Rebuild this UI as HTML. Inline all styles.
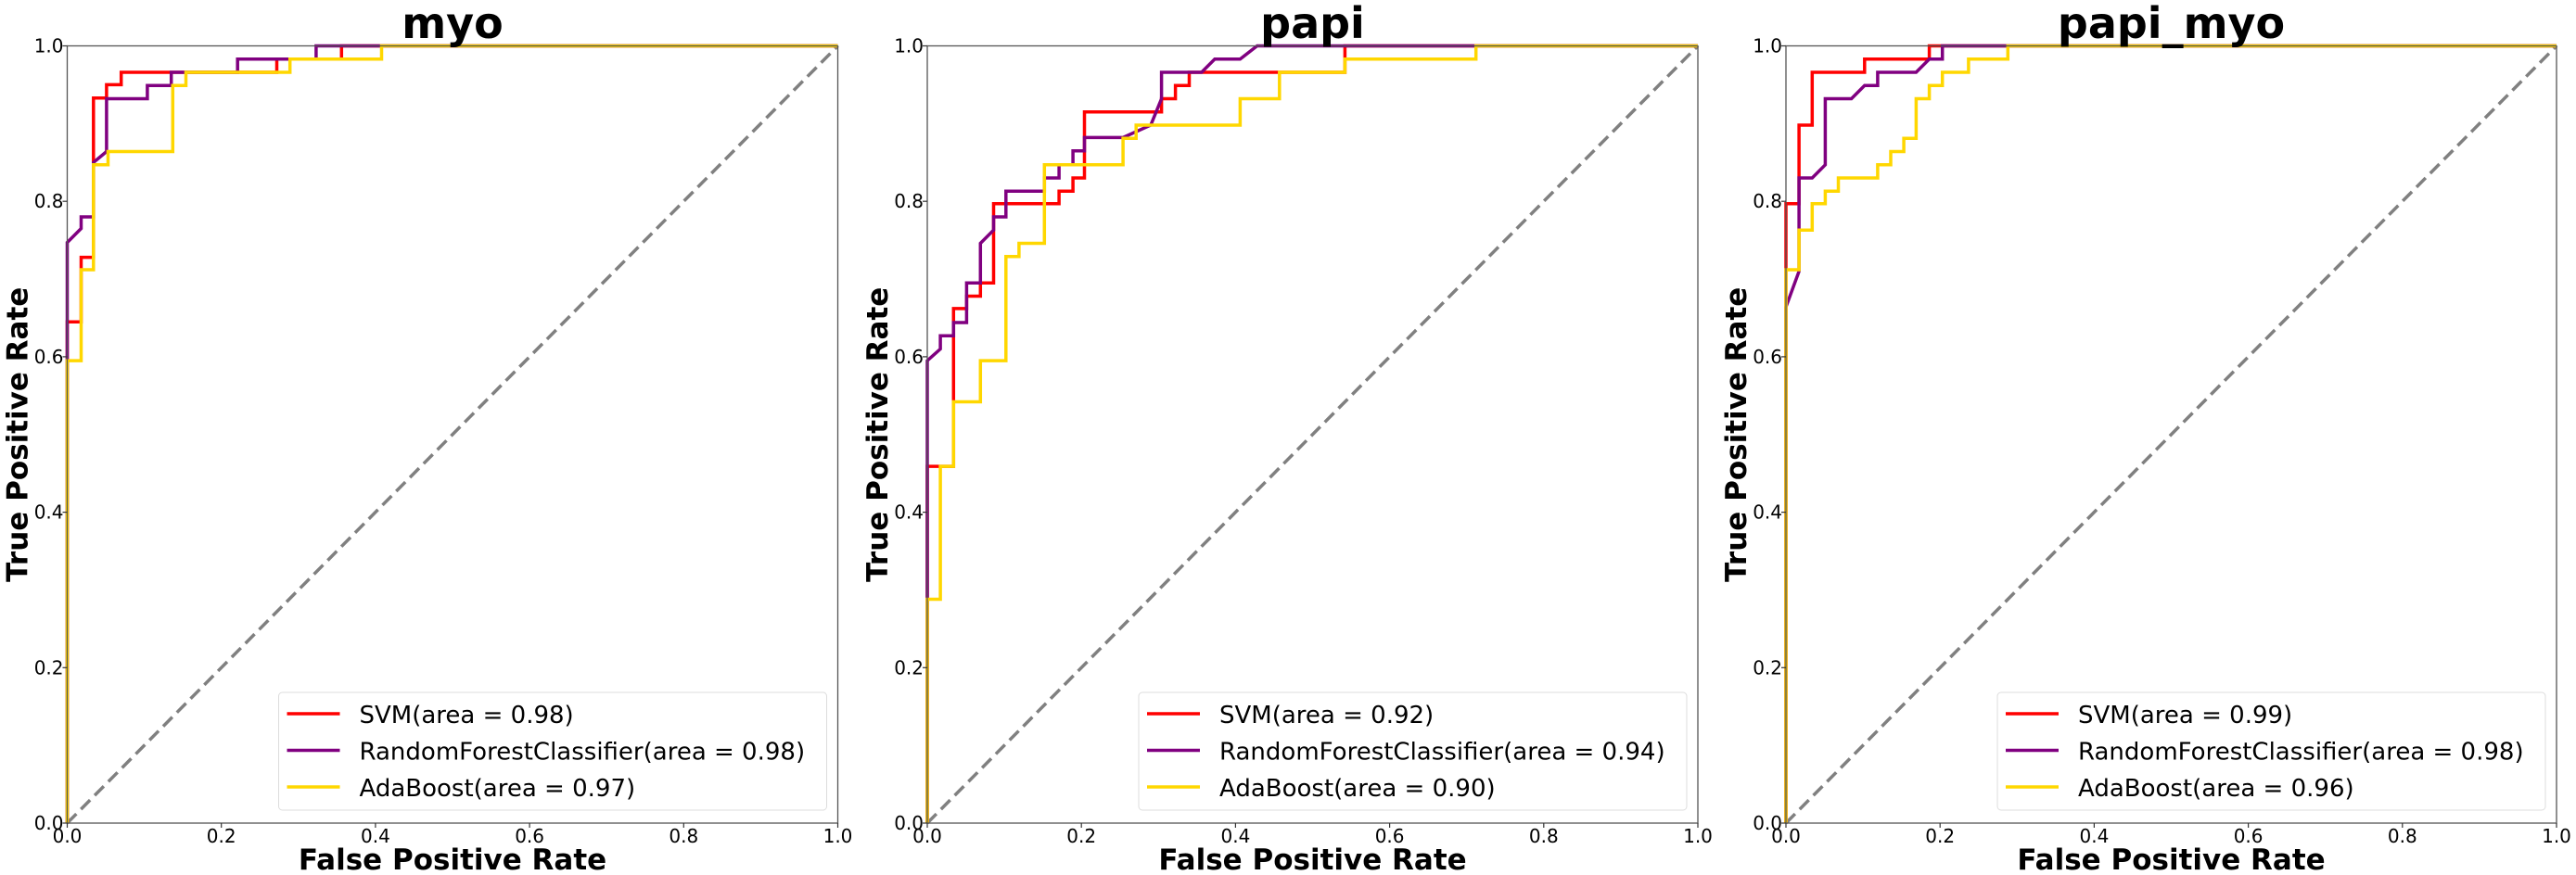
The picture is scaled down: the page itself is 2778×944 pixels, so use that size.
<!DOCTYPE html>
<html><head><meta charset="utf-8"><style>
html,body{margin:0;padding:0;background:#fff}
svg{display:block;font-family:"DejaVu Sans","Liberation Sans",sans-serif}
</style></head><body>
<svg id="chart" width="2778" height="944" viewBox="0 0 2778 944" xmlns="http://www.w3.org/2000/svg"></svg>
<script>
const panelTitles = ["myo", "papi", "papi_myo"];
const seriesNames = ["SVM", "RandomForestClassifier", "AdaBoost"];
const seriesColors = ["#ff0000", "#800080", "#ffd700"];
const aucValues = [[0.98, 0.98, 0.97], [0.92, 0.94, 0.90], [0.99, 0.98, 0.96]];
const tickLabels = ["0.0", "0.2", "0.4", "0.6", "0.8", "1.0"];
const tickValues = [0, 0.2, 0.4, 0.6, 0.8, 1.0];

// ROC curves: [fpr, tpr] pairs
const myoSvm = [[0,0],[0,0.645],[0.018,0.645],[0.018,0.728],[0.034,0.728],[0.034,0.933],[0.051,0.933],[0.051,0.95],[0.07,0.95],[0.07,0.966],[0.272,0.966],[0.272,0.983],[0.356,0.983],[0.356,1],[1,1]];
const myoRf = [[0,0],[0,0.747],[0.018,0.765],[0.018,0.78],[0.034,0.78],[0.034,0.85],[0.051,0.864],[0.051,0.932],[0.104,0.932],[0.104,0.949],[0.135,0.949],[0.135,0.966],[0.221,0.966],[0.221,0.983],[0.323,0.983],[0.323,1],[1,1]];
const myoAda = [[0,0],[0,0.595],[0.018,0.595],[0.018,0.712],[0.034,0.712],[0.034,0.847],[0.053,0.847],[0.053,0.864],[0.137,0.864],[0.137,0.949],[0.154,0.949],[0.154,0.966],[0.289,0.966],[0.289,0.983],[0.408,0.983],[0.408,1],[1,1]];

const papiSvm = [[0,0],[0,0.459],[0.034,0.459],[0.034,0.662],[0.051,0.662],[0.051,0.678],[0.069,0.678],[0.069,0.695],[0.086,0.695],[0.086,0.797],[0.171,0.797],[0.171,0.813],[0.189,0.813],[0.189,0.83],[0.204,0.83],[0.204,0.915],[0.304,0.915],[0.304,0.932],[0.322,0.932],[0.322,0.949],[0.34,0.949],[0.34,0.966],[0.542,0.966],[0.542,1],[1,1]];
const papiRf = [[0,0],[0,0.595],[0.017,0.61],[0.017,0.627],[0.034,0.627],[0.034,0.644],[0.051,0.644],[0.051,0.695],[0.069,0.695],[0.069,0.746],[0.086,0.763],[0.086,0.78],[0.102,0.78],[0.102,0.813],[0.152,0.813],[0.152,0.83],[0.171,0.83],[0.171,0.847],[0.189,0.847],[0.189,0.865],[0.204,0.865],[0.204,0.882],[0.254,0.882],[0.29,0.898],[0.304,0.932],[0.304,0.966],[0.356,0.966],[0.373,0.983],[0.406,0.983],[0.428,1],[1,1]];
const papiAda = [[0,0],[0,0.288],[0.017,0.288],[0.017,0.459],[0.034,0.459],[0.034,0.542],[0.069,0.542],[0.069,0.595],[0.102,0.595],[0.102,0.729],[0.119,0.729],[0.119,0.746],[0.152,0.746],[0.152,0.847],[0.254,0.847],[0.254,0.881],[0.271,0.881],[0.271,0.898],[0.406,0.898],[0.406,0.932],[0.457,0.932],[0.457,0.966],[0.542,0.966],[0.542,0.983],[0.712,0.983],[0.712,1],[1,1]];

const pmSvm = [[0,0],[0,0.797],[0.017,0.797],[0.017,0.898],[0.034,0.898],[0.034,0.966],[0.102,0.966],[0.102,0.983],[0.186,0.983],[0.186,1],[1,1]];
const pmRf = [[0,0],[0,0.664],[0.017,0.71],[0.017,0.83],[0.034,0.83],[0.051,0.847],[0.051,0.932],[0.085,0.932],[0.102,0.949],[0.119,0.949],[0.119,0.966],[0.169,0.966],[0.186,0.983],[0.203,0.983],[0.203,1],[1,1]];
const pmAda = [[0,0],[0,0.712],[0.017,0.712],[0.017,0.763],[0.034,0.763],[0.034,0.797],[0.051,0.797],[0.051,0.813],[0.068,0.813],[0.068,0.83],[0.119,0.83],[0.119,0.847],[0.136,0.847],[0.136,0.864],[0.153,0.864],[0.153,0.881],[0.169,0.881],[0.169,0.932],[0.186,0.932],[0.186,0.949],[0.203,0.949],[0.203,0.966],[0.237,0.966],[0.237,0.983],[0.288,0.983],[0.288,1],[1,1]];

const curves = [[myoSvm, myoRf, myoAda], [papiSvm, papiRf, papiAda], [pmSvm, pmRf, pmAda]];

const NS = "http://www.w3.org/2000/svg";
const svg = document.getElementById("chart");
const lefts = [72.5, 1000, 1926];
const W = 831, TOP = 49.5, BOT = 888, H = BOT - TOP;
function mk(tag, attrs, parent) {
  const e = document.createElementNS(NS, tag);
  for (const k in attrs) e.setAttribute(k, attrs[k]);
  (parent || svg).appendChild(e);
  return e;
}

panelTitles.forEach((title, p) => {
  const L = lefts[p];
  const sx = v => L + v * W;
  const sy = v => BOT - v * H;
  const g = mk("g", {});
  
  

  const diag = mk("line", {x1: sx(0), y1: sy(0), x2: sx(1), y2: sy(1), stroke: "#808080", "stroke-width": 3.5, "stroke-dasharray": "14,7"}, g);
  
  

  curves[p].forEach((pts, s) => {
    const d = pts.map((pt, i) => (i ? "L" : "M") + sx(pt[0]).toFixed(1) + "," + sy(pt[1]).toFixed(1)).join(" ");
    const path = mk("path", {d: d, fill: "none", stroke: seriesColors[s], "stroke-width": 3.5, "stroke-linejoin": "miter"}, g);
    
    
  });

  const fr = mk("rect", {x: L, y: TOP, width: W, height: H, fill: "none", stroke: "#555", "stroke-width": 1.3}, g);
  
  

  tickValues.forEach((v, i) => {
    mk("line", {x1: L - 5, y1: sy(v), x2: L, y2: sy(v), stroke: "#333", "stroke-width": 1.2}, g);
    mk("line", {x1: sx(v), y1: BOT, x2: sx(v), y2: BOT + 5, stroke: "#333", "stroke-width": 1.2}, g);
    const yt = mk("text", {x: L - 4, y: sy(v) + 7, "text-anchor": "end", "font-size": 20, fill: "#000"}, g);
    yt.textContent = tickLabels[i];
    
    
    const xt = mk("text", {x: sx(v), y: BOT + 21, "text-anchor": "middle", "font-size": 20, fill: "#000"}, g);
    xt.textContent = tickLabels[i];
    
    
  });

  const t = mk("text", {x: L + W / 2, y: 41, "text-anchor": "middle", "font-size": 46, "font-weight": "bold", fill: "#000"}, g);
  t.textContent = title;
  
  

  const xl = mk("text", {x: L + W / 2, y: 938, "text-anchor": "middle", "font-size": 31, "font-weight": "bold", fill: "#000"}, g);
  xl.textContent = "False Positive Rate";
  
  

  const yx = L - 43, yy = (TOP + BOT) / 2;
  const yl = mk("text", {x: yx, y: yy, "text-anchor": "middle", "font-size": 31, "font-weight": "bold", fill: "#000", transform: "rotate(-90 " + yx + " " + yy + ")"}, g);
  yl.textContent = "True Positive Rate";
  
  

  const lg = mk("g", {}, g);
  
  
  const bx = L + W - 12 - 591;
  mk("rect", {x: bx, y: 747, width: 591, height: 127, rx: 4, fill: "#fff", "fill-opacity": 0.8, stroke: "#ddd", "stroke-width": 1}, lg);
  seriesNames.forEach((name, s) => {
    const ry = 770 + s * 39.5;
    const ent = mk("g", {}, lg);
    
    
    mk("line", {x1: bx + 9, y1: ry, x2: bx + 66, y2: ry, stroke: seriesColors[s], "stroke-width": 3.5}, ent);
    const tx = mk("text", {x: bx + 87, y: ry + 10, "font-size": 26, fill: "#000"}, ent);
    tx.textContent = name + "(area = " + aucValues[p][s].toFixed(2) + ")";
  });
});
</script>
</body></html>
